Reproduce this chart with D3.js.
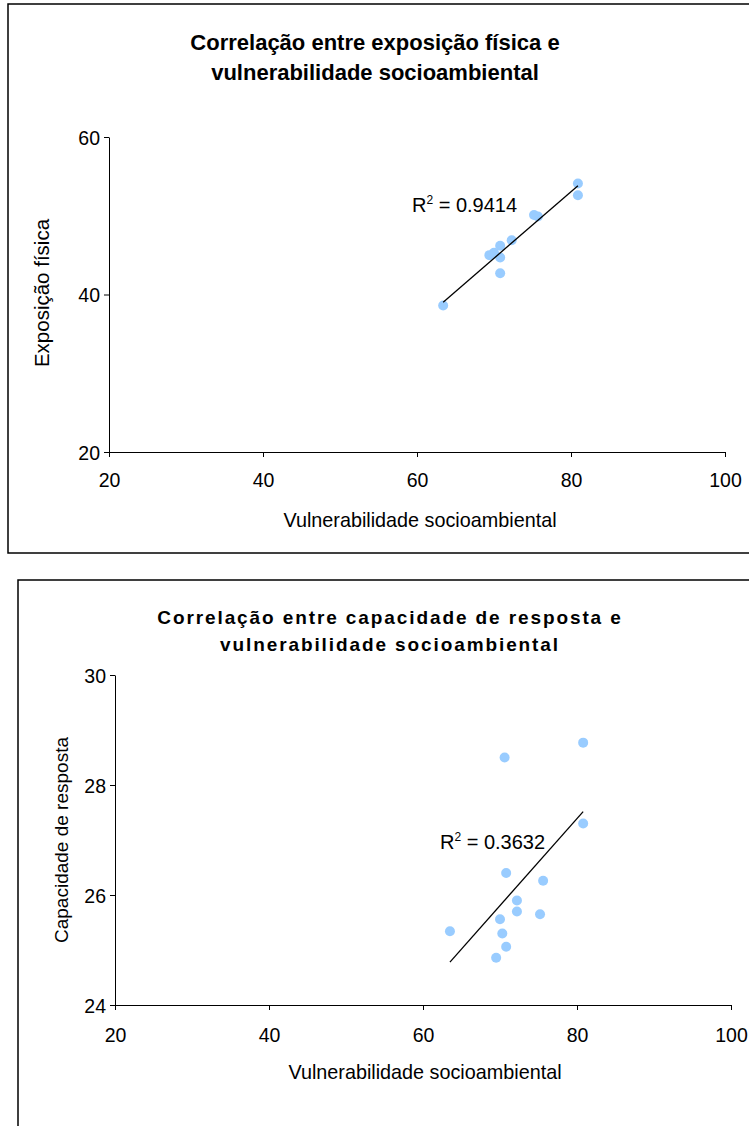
<!DOCTYPE html>
<html>
<head>
<meta charset="utf-8">
<script src="https://cdn.jsdelivr.net/npm/d3@7"></script>
<style>
  html, body { margin: 0; padding: 0; background: #fff; }
  svg { display: block; }
  text { font-family: "Liberation Sans", Arial, sans-serif; fill: #000; }
</style>
</head>
<body>
<svg id="chart" width="749" height="1126"></svg>
<script>
// ---- Data ----
const xTicks = [20, 40, 60, 80, 100];

// Chart 1: Exposição física vs Vulnerabilidade socioambiental
const vulnA = [63.4, 69.4, 70.0, 70.8, 70.8, 70.8, 72.3, 75.2, 75.7, 80.9, 80.9];
const exposicao = [38.6, 45.0, 45.3, 46.2, 44.7, 42.7, 46.9, 50.1, 49.9, 54.1, 52.6];
const yTicksA = [20, 40, 60];
const r2A = "0.9414";

// Chart 2: Capacidade de resposta vs Vulnerabilidade socioambiental
const vulnB = [70.6, 80.8, 80.8, 70.8, 75.6, 72.2, 72.2, 75.2, 70.0, 63.5, 70.3, 70.8, 69.5];
const capacidade = [28.5, 28.77, 27.3, 26.4, 26.26, 25.9, 25.7, 25.65, 25.56, 25.34, 25.3, 25.06, 24.86];
const yTicksB = [24, 26, 28, 30];
const r2B = "0.3632";

const svg = d3.select("#chart");

function regression(xs, ys) {
  const mx = d3.mean(xs), my = d3.mean(ys);
  let sxy = 0, sxx = 0;
  xs.forEach((x, i) => { sxy += (x - mx) * (ys[i] - my); sxx += (x - mx) * (x - mx); });
  const b = sxy / sxx;
  return { a: my - b * mx, b };
}

function drawChart(cfg) {
  const g = svg.append("g");
  // frame
  g.append("rect")
    .attr("x", cfg.frame.x).attr("y", cfg.frame.y)
    .attr("width", cfg.frame.w).attr("height", cfg.frame.h)
    .attr("fill", "none").attr("stroke", "#000").attr("stroke-width", 1.5);

  // title
  cfg.title.forEach((t, i) => {
    g.append("text")
      .attr("x", cfg.titleX).attr("y", cfg.titleY + i * cfg.titleGap)
      .attr("text-anchor", "middle")
      .attr("font-size", cfg.titleSize).attr("font-weight", "bold")
      .attr("letter-spacing", cfg.titleSpacing)
      .text(t);
  });

  const x = d3.scaleLinear().domain([20, 100]).range([cfg.x0, cfg.x1]);
  const y = d3.scaleLinear().domain(cfg.yDomain).range([cfg.y0, cfg.y1]);

  const xAxis = g.append("g")
    .attr("transform", `translate(0,${cfg.y0})`)
    .call(d3.axisBottom(x).tickValues(xTicks).tickSize(5).tickSizeOuter(0).tickFormat(d3.format("d")));
  const yAxis = g.append("g")
    .attr("transform", `translate(${cfg.x0},0)`)
    .call(d3.axisLeft(y).tickValues(cfg.yTicks).tickSize(5).tickSizeOuter(0).tickFormat(d3.format("d")));
  [xAxis, yAxis].forEach(a => {
    a.select(".domain").attr("stroke", "#000").attr("stroke-width", 1);
    a.selectAll(".tick line").attr("stroke", "#000");
    a.selectAll("text").attr("font-size", 19.5).attr("font-family", '"Liberation Sans", Arial, sans-serif').attr("fill", "#000");
  });
  xAxis.selectAll("text").attr("y", cfg.xTickOffset).attr("dy", "0.71em");
  yAxis.selectAll("text").attr("x", -9).attr("dy", "0.36em");

  // axis titles
  g.append("text")
    .attr("x", cfg.xLabelX).attr("y", cfg.xLabelY)
    .attr("text-anchor", "middle").attr("font-size", 19.8)
    .text("Vulnerabilidade socioambiental");
  g.append("text")
    .attr("transform", `translate(${cfg.yLabelX},${cfg.yLabelY}) rotate(-90)`)
    .attr("text-anchor", "middle").attr("font-size", cfg.yLabelSize)
    .text(cfg.yLabel);

  // points
  g.selectAll("circle.pt").data(cfg.xs.map((v, i) => [v, cfg.ys[i]]))
    .enter().append("circle")
    .attr("cx", d => x(d[0])).attr("cy", d => y(d[1]))
    .attr("r", 5).attr("fill", "#99CCFF");

  // trendline (drawn over points)
  const r = regression(cfg.xs, cfg.ys);
  const xmin = d3.min(cfg.xs), xmax = d3.max(cfg.xs);
  g.append("line")
    .attr("x1", x(xmin)).attr("y1", y(r.a + r.b * xmin))
    .attr("x2", x(xmax)).attr("y2", y(r.a + r.b * xmax))
    .attr("stroke", "#000").attr("stroke-width", 1.3);

  // R² label
  const lab = g.append("text")
    .attr("x", cfg.r2X).attr("y", cfg.r2Y)
    .attr("font-size", 20);
  lab.append("tspan").text("R");
  lab.append("tspan").attr("font-size", 12).attr("dy", -8).text("2");
  lab.append("tspan").attr("dy", 8).text(" = " + cfg.r2);
}

drawChart({
  frame: { x: 8, y: 4, w: 760, h: 549 },
  title: ["Correlação entre exposição física e", "vulnerabilidade socioambiental"],
  titleX: 375, titleY: 50, titleGap: 30, titleSize: 22, titleSpacing: 0,
  x0: 109, x1: 725, y0: 452, y1: 137,
  yDomain: [20, 60], yTicks: yTicksA, xTickOffset: 21,
  xs: vulnA, ys: exposicao,
  xLabelX: 420, xLabelY: 527,
  yLabel: "Exposição física", yLabelX: 49, yLabelY: 293, yLabelSize: 20.5,
  r2: r2A, r2X: 412, r2Y: 212
});

drawChart({
  frame: { x: 18, y: 580, w: 760, h: 580 },
  title: ["Correlação entre capacidade de resposta e", "vulnerabilidade socioambiental"],
  titleX: 390, titleY: 624, titleGap: 27, titleSize: 19, titleSpacing: 1.9,
  x0: 115, x1: 731, y0: 1005, y1: 675,
  yDomain: [24, 30], yTicks: yTicksB, xTickOffset: 23,
  xs: vulnB, ys: capacidade,
  xLabelX: 425, xLabelY: 1079,
  yLabel: "Capacidade de resposta", yLabelX: 68, yLabelY: 840, yLabelSize: 19,
  r2: r2B, r2X: 440, r2Y: 849
});
</script>
</body>
</html>
